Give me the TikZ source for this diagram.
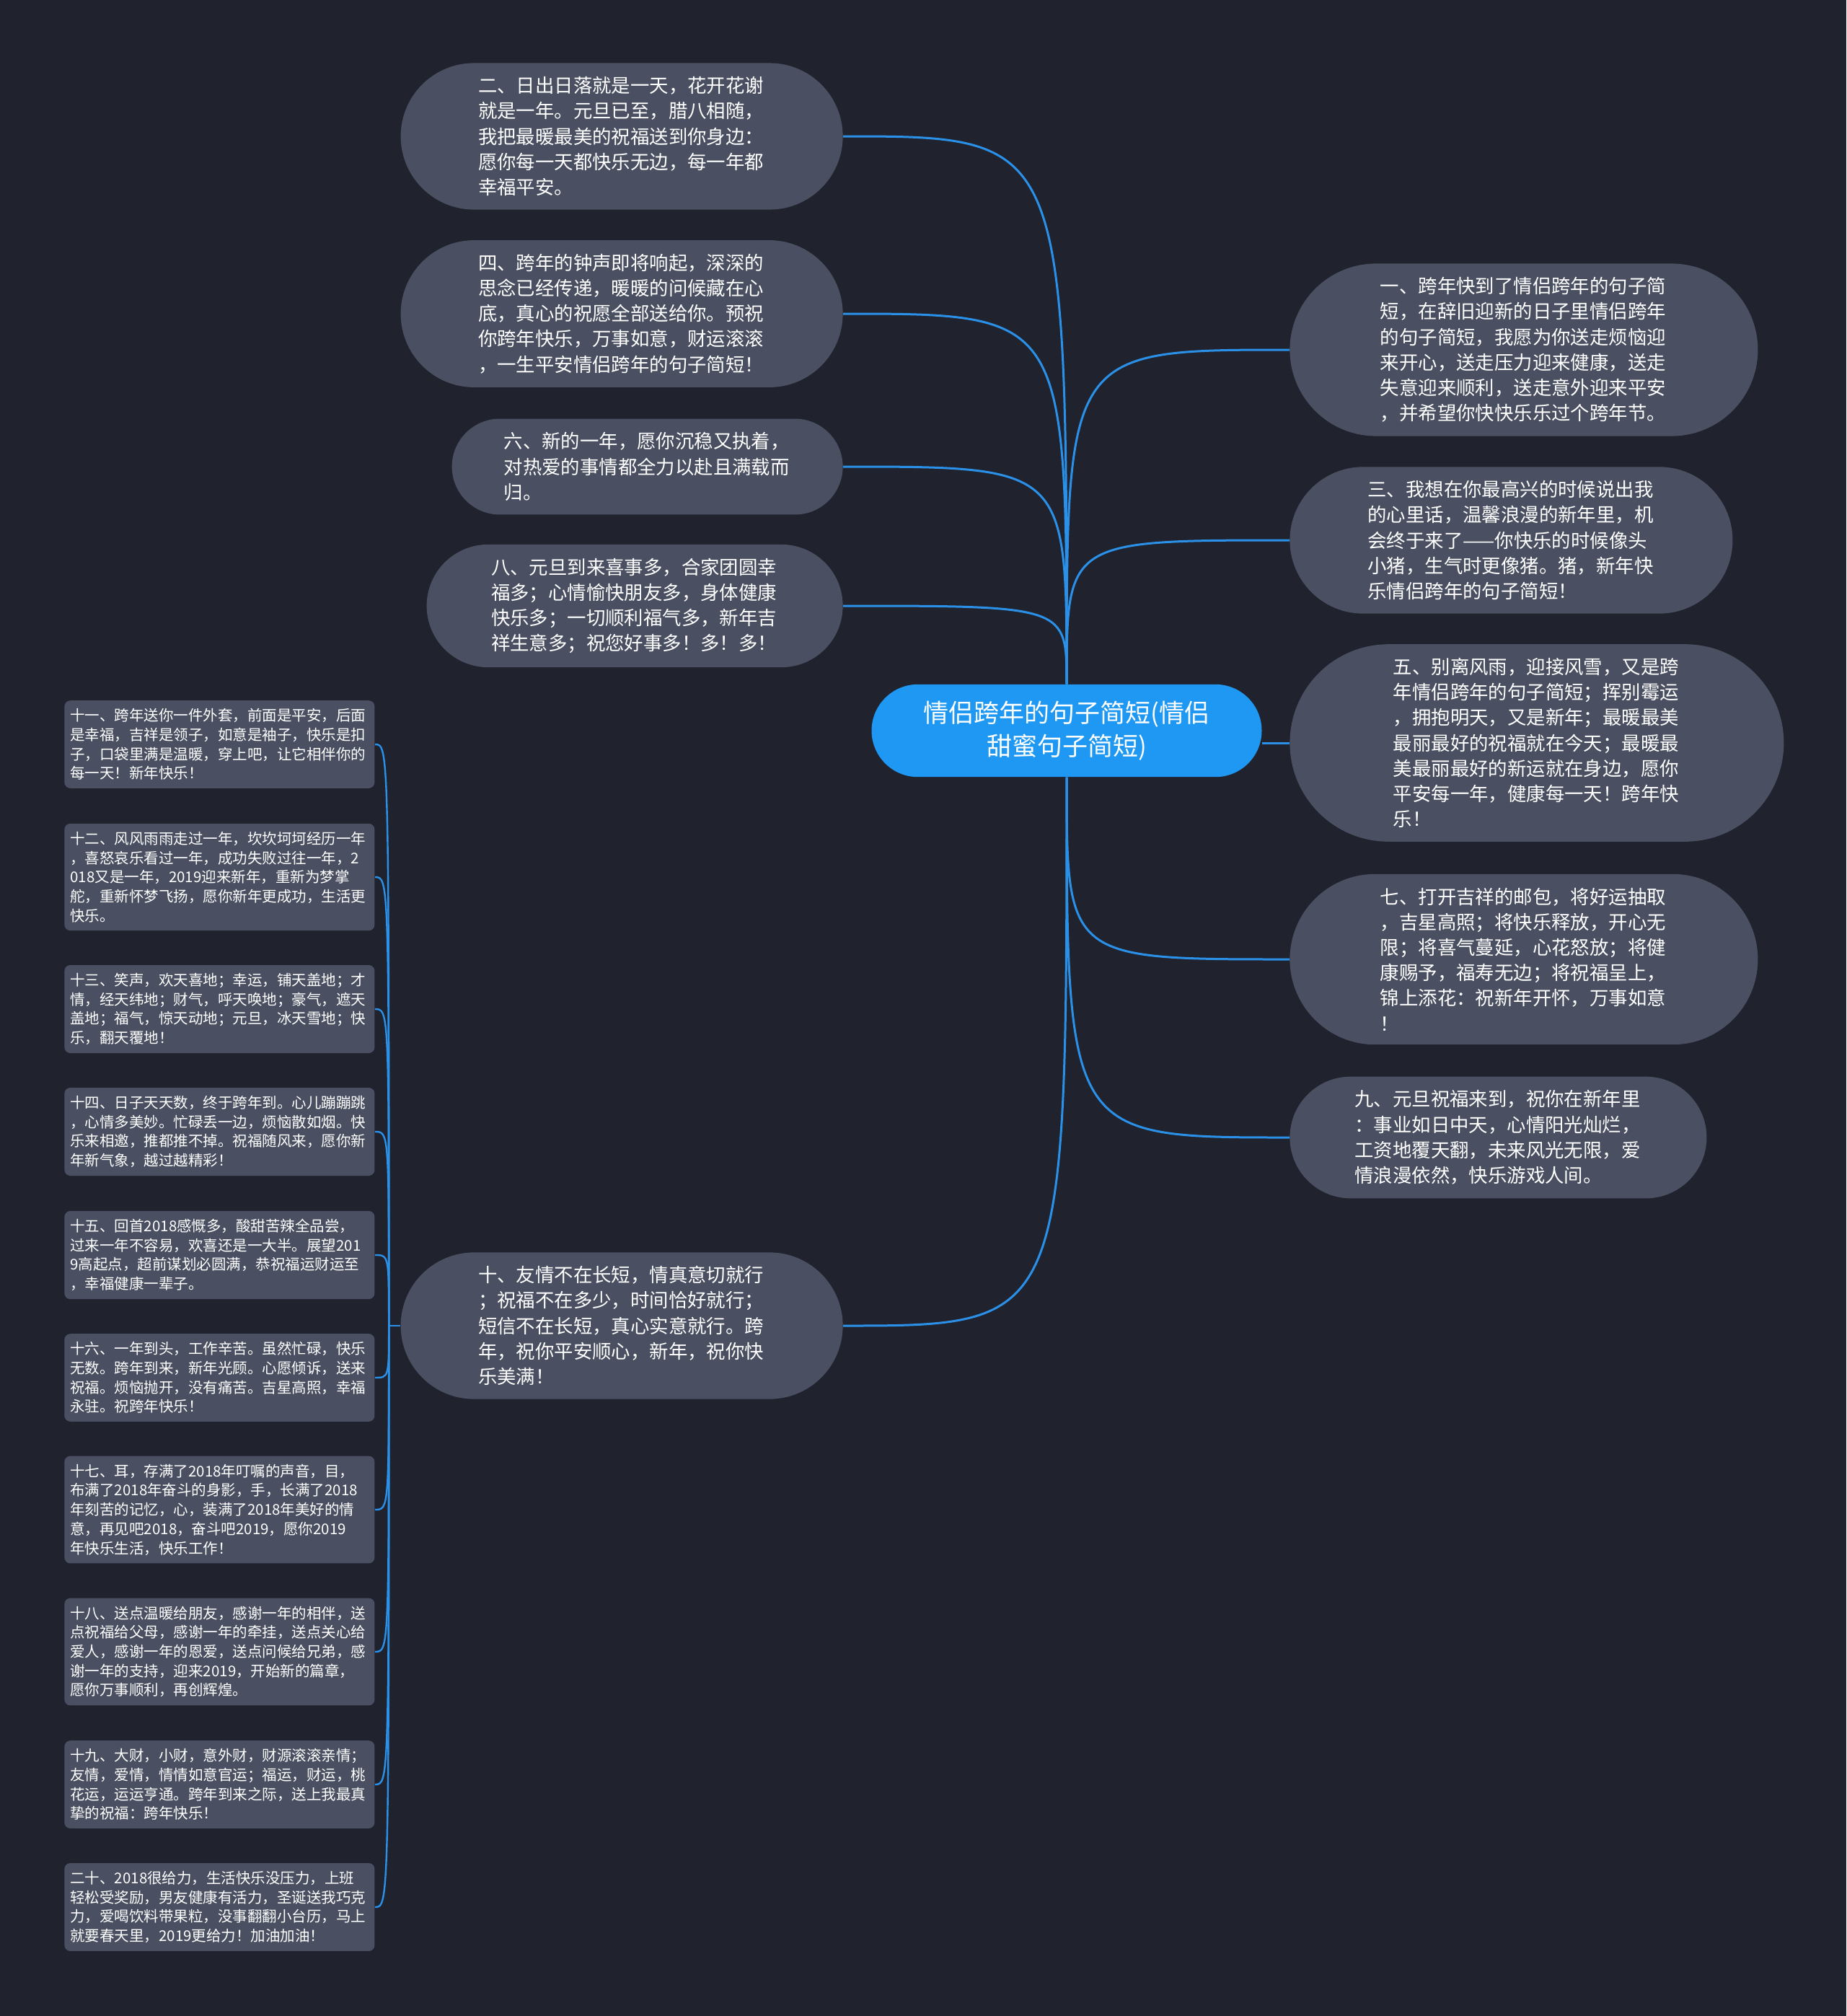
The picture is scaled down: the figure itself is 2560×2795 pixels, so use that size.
\documentclass[tikz,border=0pt]{standalone}
\usepackage{fontspec}
\setmainfont{Noto Sans CJK SC}
\usetikzlibrary{shapes.misc}
\definecolor{bgcol}{HTML}{20232E}
\definecolor{pillgray}{HTML}{4A5061}
\definecolor{linkblue}{HTML}{2A90E8}
\definecolor{hubblue}{HTML}{1E98F2}

\begin{document}
\begin{tikzpicture}[x=0.5pt,y=-0.5pt,
  pill/.style={rounded rectangle,fill=pillgray,text=white,inner xsep=3.75pt,
    inner ysep=9.5pt,text width=199pt,align=left,minimum width=#1,
    font=\fontsize{13.2pt}{17.6pt}\selectfont},
  lpill/.style={pill=#1,anchor=east},
  rpill/.style={pill=#1,anchor=west},
  card/.style={fill=pillgray,rounded corners=4pt,text=white,anchor=west,
    inner xsep=4pt,inner ysep=5.6pt,text width=207pt,align=left,
    font=\fontsize{10.25pt}{13.35pt}\selectfont},
  hub/.style={rounded rectangle,fill=hubblue,text=white,inner xsep=3pt,
    inner ysep=11.5pt,minimum width=276.5pt,align=center,
    font=\fontsize{17.5pt}{23pt}\selectfont},
  link/.style={draw=linkblue,line width=1.5pt},
  twig/.style={draw=linkblue,line width=1.2pt}]
  % Dark page, sized as the reference.
  \fill[bgcol] (0,0) rectangle (2560,2795);
  % The topic in the middle.
  \node[hub] (ctr) at (1479,1013) {情侣跨年的句子简短(情侣\\甜蜜句子简短)};
  % Left column of pills.
  \node[lpill=314pt] (n2) at (1169,189) {二、日出日落就是一天，花开花谢\\就是一年。元旦已至，腊八相随，\\我把最暖最美的祝福送到你身边：\\愿你每一天都快乐无边，每一年都\\幸福平安。};
  \node[lpill=314pt] (n4) at (1169,435) {四、跨年的钟声即将响起，深深的\\思念已经传递，暖暖的问候藏在心\\底，真心的祝愿全部送给你。预祝\\你跨年快乐，万事如意，财运滚滚\\，一生平安情侣跨年的句子简短！};
  \node[lpill=278.5pt] (n6) at (1169,647) {六、新的一年，愿你沉稳又执着，\\对热爱的事情都全力以赴且满载而\\归。};
  \node[lpill=296pt] (n8) at (1169,840) {八、元旦到来喜事多，合家团圆幸\\福多；心情愉快朋友多，身体健康\\快乐多；一切顺利福气多，新年吉\\祥生意多；祝您好事多！多！多！};
  \node[lpill=314pt] (n10) at (1169,1838) {十、友情不在长短，情真意切就行\\；祝福不在多少，时间恰好就行；\\短信不在长短，真心实意就行。跨\\年，祝你平安顺心，新年，祝你快\\乐美满！};
  % Right column of pills.
  \node[rpill=332pt] (n1) at (1788,485) {一、跨年快到了情侣跨年的句子简\\短，在辞旧迎新的日子里情侣跨年\\的句子简短，我愿为你送走烦恼迎\\来开心，送走压力迎来健康，送走\\失意迎来顺利，送走意外迎来平安\\，并希望你快快乐乐过个跨年节。};
  \node[rpill=314.5pt] (n3) at (1788,749) {三、我想在你最高兴的时候说出我\\的心里话，温馨浪漫的新年里，机\\会终于来了——你快乐的时候像头\\小猪，生气时更像猪。猪，新年快\\乐情侣跨年的句子简短！};
  \node[rpill=350pt] (n5) at (1788,1030) {五、别离风雨，迎接风雪，又是跨\\年情侣跨年的句子简短；挥别霉运\\，拥抱明天，又是新年；最暖最美\\最丽最好的祝福就在今天；最暖最\\美最丽最好的新运就在身边，愿你\\平安每一年，健康每一天！跨年快\\乐！};
  \node[rpill=332pt] (n7) at (1788,1330) {七、打开吉祥的邮包，将好运抽取\\，吉星高照；将快乐释放，开心无\\限；将喜气蔓延，心花怒放；将健\\康赐予，福寿无边；将祝福呈上，\\锦上添花：祝新年开怀，万事如意\\！};
  \node[rpill=296.5pt] (n9) at (1788,1577) {九、元旦祝福来到，祝你在新年里\\：事业如日中天，心情阳光灿烂，\\工资地覆天翻，未来风光无限，爱\\情浪漫依然，快乐游戏人间。};
  % Cards hanging off item ten.
  \node[card] (n11) at (89,1032) {十一、跨年送你一件外套，前面是平安，后面\\是幸福，吉祥是领子，如意是袖子，快乐是扣\\子，口袋里满是温暖，穿上吧，让它相伴你的\\每一天！新年快乐！};
  \node[card] (n12) at (89,1216) {十二、风风雨雨走过一年，坎坎坷坷经历一年\\，喜怒哀乐看过一年，成功失败过往一年，2\\018又是一年，2019迎来新年，重新为梦掌\\舵，重新怀梦飞扬，愿你新年更成功，生活更\\快乐。};
  \node[card] (n13) at (89,1399) {十三、笑声，欢天喜地；幸运，铺天盖地；才\\情，经天纬地；财气，呼天唤地；豪气，遮天\\盖地；福气，惊天动地；元旦，冰天雪地；快\\乐，翻天覆地！};
  \node[card] (n14) at (89,1569) {十四、日子天天数，终于跨年到。心儿蹦蹦跳\\，心情多美妙。忙碌丢一边，烦恼散如烟。快\\乐来相邀，推都推不掉。祝福随风来，愿你新\\年新气象，越过越精彩！};
  \node[card] (n15) at (89,1740) {十五、回首2018感慨多，酸甜苦辣全品尝，\\过来一年不容易，欢喜还是一大半。展望201\\9高起点，超前谋划必圆满，恭祝福运财运至\\，幸福健康一辈子。};
  \node[card] (n16) at (89,1910) {十六、一年到头，工作辛苦。虽然忙碌，快乐\\无数。跨年到来，新年光顾。心愿倾诉，送来\\祝福。烦恼抛开，没有痛苦。吉星高照，幸福\\永驻。祝跨年快乐！};
  \node[card] (n17) at (89,2093) {十七、耳，存满了2018年叮嘱的声音，目，\\布满了2018年奋斗的身影，手，长满了2018\\年刻苦的记忆，心，装满了2018年美好的情\\意，再见吧2018，奋斗吧2019，愿你2019\\年快乐生活，快乐工作！};
  \node[card] (n18) at (89,2290) {十八、送点温暖给朋友，感谢一年的相伴，送\\点祝福给父母，感谢一年的牵挂，送点关心给\\爱人，感谢一年的恩爱，送点问候给兄弟，感\\谢一年的支持，迎来2019，开始新的篇章，\\愿你万事顺利，再创辉煌。};
  \node[card] (n19) at (89,2474) {十九、大财，小财，意外财，财源滚滚亲情；\\友情，爱情，情情如意官运；福运，财运，桃\\花运，运运亨通。跨年到来之际，送上我最真\\挚的祝福：跨年快乐！};
  \node[card] (n20) at (89,2644) {二十、2018很给力，生活快乐没压力，上班\\轻松受奖励，男友健康有活力，圣诞送我巧克\\力，爱喝饮料带果粒，没事翻翻小台历，马上\\就要春天里，2019更给力！加油加油！};
  % Branches from the topic.
  \foreach \n in {n2,n4,n6,n8}
    \draw[link] (ctr.north) .. controls (ctr.north |- \n.east) .. (\n.east);
  \foreach \n in {n1,n3}
    \draw[link] (ctr.north) .. controls (ctr.north |- \n.west) .. (\n.west);
  \foreach \n in {n7,n9}
    \draw[link] (ctr.south) .. controls (ctr.south |- \n.west) .. (\n.west);
  \draw[link] (ctr.south) .. controls (ctr.south |- n10.east) .. (n10.east);
  \draw[link] (ctr.east |- n5.west) -- (n5.west);
  % Bracket from item ten to its cards.
  \coordinate (j10) at ([xshift=-8pt]n10.west);
  \draw[twig] (n10.west) -- (j10);
  \foreach \i in {11,...,20}
    \draw[twig] (j10) .. controls (j10 |- n\i.east) .. (n\i.east);
\end{tikzpicture}
\end{document}
